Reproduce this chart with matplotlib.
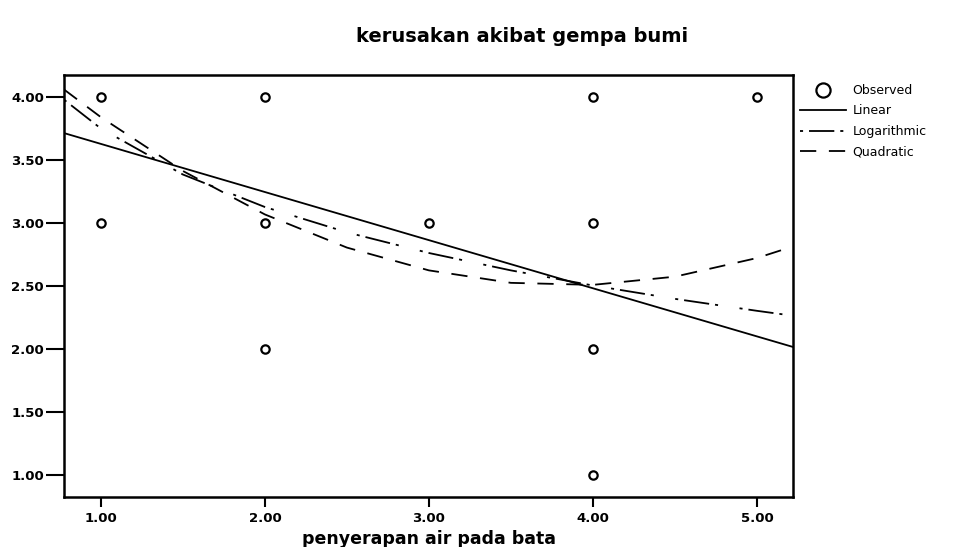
import matplotlib.pyplot as plt

# observed points
obs_x = [1, 1, 2, 2, 2, 3, 4, 4, 4, 4, 5]
obs_y = [4, 3, 4, 3, 2, 3, 4, 3, 2, 1, 4]

# fitted curves, values
fit_x = [0.775, 1.0, 1.5, 2.0, 2.5, 3.0, 3.5, 4.0, 4.5, 5.0, 5.22]
linear = [3.714, 3.628, 3.437, 3.246, 3.055, 2.864, 2.673, 2.482, 2.291, 2.100, 2.016]
logarithmic = [3.979, 3.750, 3.385, 3.127, 2.926, 2.762, 2.624, 2.504, 2.398, 2.303, 2.264]
quadratic = [4.060, 3.840, 3.413, 3.068, 2.805, 2.624, 2.525, 2.509, 2.574, 2.722, 2.814]

xticks = [1, 2, 3, 4, 5]
yticks = [1.0, 1.5, 2.0, 2.5, 3.0, 3.5, 4.0]

plt.rcParams['font.family'] = ['DejaVu Sans']

fig = plt.figure(figsize=(9.59, 5.47), dpi=100)
ax = fig.add_axes([64/959, 1-497/547, (793-64)/959, (497-75)/547])

ax.plot(obs_x, obs_y, 'o', mfc='white', mec='black', mew=1.6, ms=6,
        label='Observed', zorder=3)
ax.plot(fit_x, linear, color='black', lw=1.3, label='Linear')
ax.plot(fit_x, logarithmic, color='black', lw=1.3,
        linestyle=(0, (1.7, 3.3, 14, 3.3, 1.7, 12)), label='Logarithmic')
ax.plot(fit_x, quadratic, color='black', lw=1.3,
        linestyle=(0, (9, 7)), label='Quadratic')

ax.set_xlim(0.775, 5.22)
ax.set_ylim(0.825, 4.175)
ax.set_xticks(xticks)
ax.set_xticklabels(['%.2f' % v for v in xticks])
ax.set_yticks(yticks)
ax.set_yticklabels(['%.2f' % v for v in yticks])

for s in ax.spines.values():
    s.set_linewidth(1.8)
ax.tick_params(axis='y', length=13, width=1.5, pad=1.5, labelsize=9.5)
ax.tick_params(axis='x', length=7, width=1.5, pad=3.5, labelsize=9.5)
for lab in ax.get_xticklabels() + ax.get_yticklabels():
    lab.set_fontweight('bold')

ax.set_xlabel('penyerapan air pada bata', fontsize=12.5, fontweight='bold')
ax.xaxis.set_label_coords(0.5, -0.078)

fig.text(522/959, 1-36/547, 'kerusakan akibat gempa bumi', fontsize=14,
         fontweight='bold', ha='center', va='center')

fig.legend(loc='upper left', bbox_to_anchor=(800/959, 1-84/547), frameon=False,
           fontsize=9, handlelength=3.7, handletextpad=0.5, labelspacing=0.6,
           markerscale=1.7, borderaxespad=0, borderpad=0)

plt.savefig('out.png', dpi=100)
